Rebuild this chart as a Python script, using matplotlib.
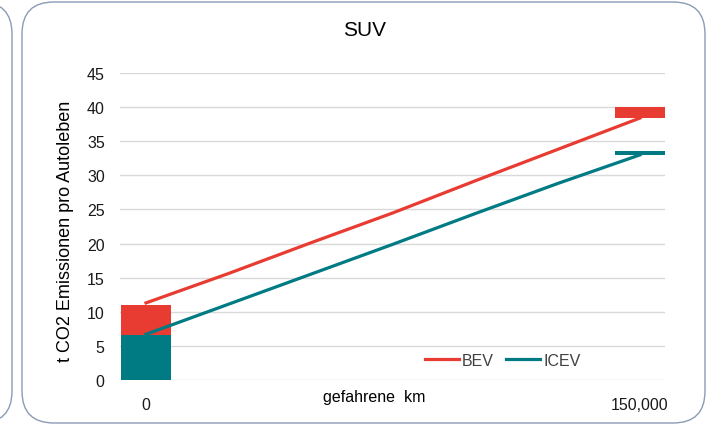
import numpy as np
import matplotlib.pyplot as plt
from matplotlib.patches import FancyBboxPatch

# data
km = [0, 25000, 50000, 75000, 100000, 125000, 150000]
bev = [11.3, 15.6, 20.1, 24.5, 29.2, 33.8, 38.4]
icev = [6.7, 11.1, 15.5, 19.9, 24.4, 28.8, 33.0]

# production emissions at 0 km
bev_start = 11.0
icev_start = 6.6
# end-of-life bars at 150,000 km
bev_end_bottom, bev_end_height = 38.4, 1.6
icev_end_bottom, icev_end_height = 33.0, 0.6

red = '#E83B31'
teal = '#007A83'

plt.rcParams['font.family'] = ['Liberation Sans', 'DejaVu Sans']

fig = plt.figure(figsize=(7.09, 4.27), dpi=100)
ax = fig.add_axes([120/709, 1-381/427, 545/709, 307/427])

# outer rounded frames
frame = FancyBboxPatch((22/709, 3/427), 683/709, 421/427,
                       boxstyle='round,pad=0,rounding_size=0.045',
                       transform=fig.transFigure, fill=False,
                       edgecolor='#8A9BB5', linewidth=1.0, mutation_aspect=709/427)
fig.patches.append(frame)
frame2 = FancyBboxPatch((-300/709, 3/427), 312/709, 421/427,
                        boxstyle='round,pad=0,rounding_size=0.045',
                        transform=fig.transFigure, fill=False,
                        edgecolor='#8A9BB5', linewidth=1.0, mutation_aspect=709/427)
fig.patches.append(frame2)

w = 15200
ax.bar(km[0], bev_start, width=w, color=red, zorder=2)
ax.bar(km[0], icev_start, width=w, color=teal, zorder=2)
ax.bar(km[-1], bev_end_height, bottom=bev_end_bottom, width=w, color=red, zorder=2)
ax.bar(km[-1], icev_end_height, bottom=icev_end_bottom, width=w, color=teal, zorder=2)

ax.plot(km, bev, color=red, lw=2.3, label='BEV', zorder=3)
ax.plot(km, icev, color=teal, lw=2.3, label='ICEV', zorder=3)

ax.set_xlim(-7900, 157600)
ax.set_ylim(0, 45)
ax.set_yticks(np.arange(0, 46, 5))
ax.set_xticks([0, 150000])
ax.set_xticklabels(['0', '150,000'])
ax.grid(axis='y', color='#D9D9D9', lw=1, zorder=0)
ax.set_axisbelow(True)
for s in ax.spines.values():
    s.set_visible(False)
ax.tick_params(length=0, labelsize=11.5, colors='#1a1a1a')
ax.tick_params(axis='y', pad=11)
ax.tick_params(axis='x', pad=12)

fig.text(365/709, 1-30/427, 'SUV', ha='center', va='center', fontsize=15)
fig.text(374/709, 1-398/427, 'gefahrene  km', ha='center', va='center', fontsize=11.5)
fig.text(66/709, 1-231/427, 't CO2 Emissionen pro Autoleben', rotation=90,
         ha='center', va='center', fontsize=13)

leg = ax.legend(loc='center left', bbox_to_anchor=((425-120)/545, (381-361.5)/307),
                ncol=2, frameon=False, fontsize=11.5, handlelength=2.1,
                handletextpad=0.2, columnspacing=0.8, borderaxespad=0, borderpad=0)
for t in leg.get_texts():
    t.set_color('#404040')

fig.savefig('out.png', dpi=100)
